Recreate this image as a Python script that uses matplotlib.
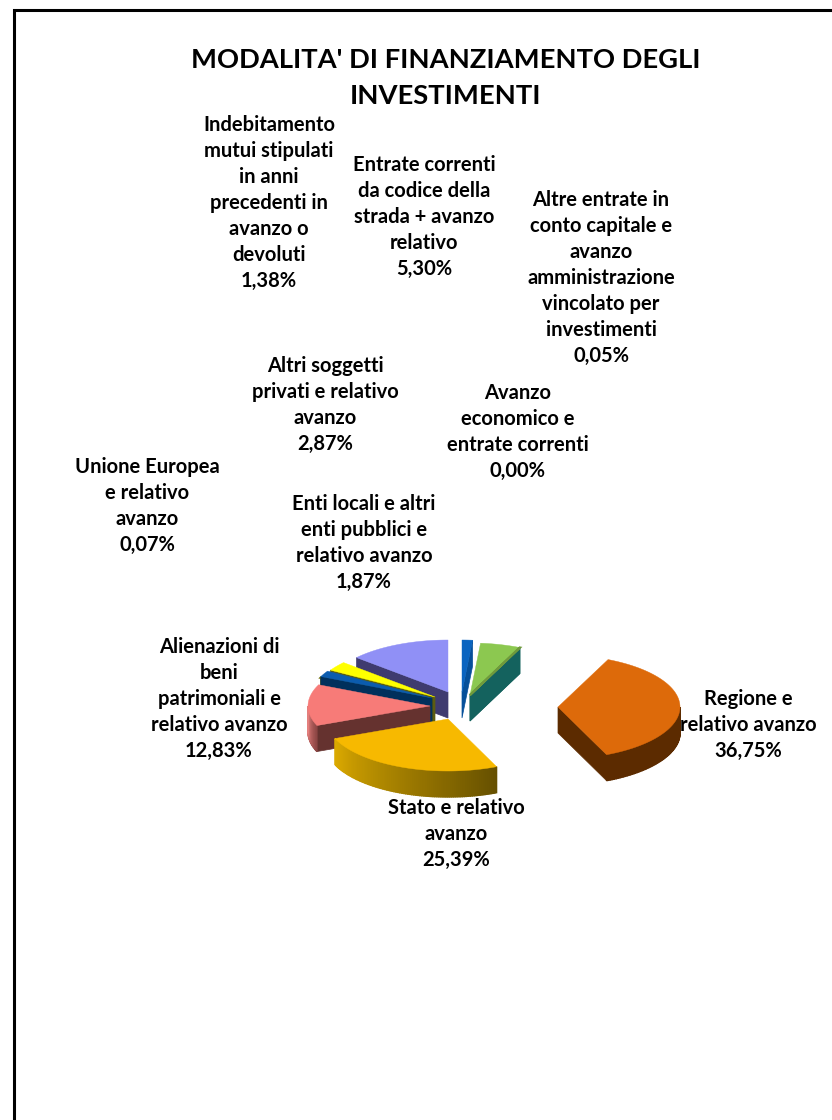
import numpy as np
import matplotlib
matplotlib.use('Agg')
import matplotlib.pyplot as plt
from matplotlib.colors import to_rgb
from matplotlib.patches import Polygon

title = "MODALITA' DI FINANZIAMENTO DEGLI\nINVESTIMENTI"
names = ["Indebitamento\nmutui stipulati\nin anni\nprecedenti in\navanzo o\ndevoluti",
         "Entrate correnti\nda codice della\nstrada + avanzo\nrelativo",
         "Altre entrate in\nconto capitale e\navanzo\namministrazione\nvincolato per\ninvestimenti",
         "Avanzo\neconomico e\nentrate correnti",
         "Regione e\nrelativo avanzo",
         "Stato e relativo\navanzo",
         "Alienazioni di\nbeni\npatrimoniali e\nrelativo avanzo",
         "Unione Europea\ne relativo\navanzo",
         "Enti locali e altri\nenti pubblici e\nrelativo avanzo",
         "Altri soggetti\nprivati e relativo\navanzo",
         ""]
# last slice (purple) has no label in the picture, its share is what is left
values = [1.38, 5.30, 0.05, 0.00, 36.75, 25.39, 12.83, 0.07, 1.87, 2.87, 13.49]

top_colors = ['#0a64c0', '#8cc850', '#6f9a3c', '#a0a0a0', '#dd6a0a', '#f7b900',
              '#f77b78', '#6a6a00', '#0b5cae', '#ffff00', '#9090f6']
face_colors = ['#06509a', '#14625e', '#14625e', '#808080', '#5c2b00', '#6b5300',
               '#65322f', '#4a4a00', '#00305c', '#5c5c10', '#3f3b6f']
wall_left = ['#06509a', '#14625e', '#14625e', '#808080', '#5c2b00', '#dcaa00',
             '#e88280', '#4a4a00', '#00305c', '#5c5c10', '#3f3b6f']
wall_right = ['#06509a', '#14625e', '#14625e', '#808080', '#5c2b00', '#665000',
              '#8a4442', '#4a4a00', '#00305c', '#5c5c10', '#3f3b6f']

# layout, pixels
apex_x = [462, 470, 470, 470, 558, 448, 430, 432, 432, 435, 448]
apex_y = [692, 695, 695, 695, 707, 719, 706, 699, 698, 697, 692]
label_x = [269, 424, 601, 518, 748, 456, 219, 147, 364, 325, 0]
label_y = [203, 217, 278, 432, 725, 834, 699, 506, 543, 405, 0]
draw_order = [0, 1, 2, 4, 10, 9, 7, 8, 6, 5]
rx, ry, depth = 122, 52, 26

plt.rcParams['font.family'] = ['Lato', 'DejaVu Sans']
fig = plt.figure(figsize=(8.32, 11.2), dpi=100)
ax = fig.add_axes([0, 0, 1, 1])
ax.set_xlim(0, 832)
ax.set_ylim(1120, 0)
ax.axis('off')

ax.plot([14, 14, 832], [1120, 10, 10], color='black', lw=2.2, solid_joinstyle='miter')

ends = np.cumsum(values) / sum(values) * 360
starts = np.concatenate([[0], ends[:-1]])


def rim(i, a):
    r = np.radians(a)
    return apex_x[i] + rx * np.sin(r), apex_y[i] - ry * np.cos(r)


def draw_slice(i):
    a0, a1 = starts[i], ends[i]
    x0, y0 = apex_x[i], apex_y[i]

    # radial side faces that look towards the viewer
    for a, visible in ((a0, np.sin(np.radians(a0)) < -0.01), (a1, np.sin(np.radians(a1)) > 0.01)):
        if visible:
            x1, y1 = rim(i, a)
            ax.add_patch(Polygon([(x0, y0), (x1, y1), (x1, y1 + depth), (x0, y0 + depth)],
                                 fc=face_colors[i], ec=face_colors[i], lw=0.5))

    # outer wall, front half only, in narrow strips for the shading
    w0, w1 = max(a0, 90), min(a1, 270)
    if w1 > w0:
        steps = np.linspace(w0, w1, int(w1 - w0) + 2)
        left, right = np.array(to_rgb(wall_left[i])), np.array(to_rgb(wall_right[i]))
        for s0, s1 in zip(steps[:-1], steps[1:]):
            (xa, ya), (xb, yb) = rim(i, s0), rim(i, s1)
            t = (s0 - w0) / (w1 - w0)
            c = right * (1 - t) + left * t
            ax.add_patch(Polygon([(xa, ya), (xb, yb), (xb, yb + depth), (xa, ya + depth)],
                                 fc=c, ec=c, lw=1.0))

    arc = [rim(i, a) for a in np.linspace(a0, a1, max(int(a1 - a0), 1) + 2)]
    lw = 1.6 if a1 - a0 < 1 else 0.3
    ax.add_patch(Polygon([(x0, y0)] + arc, fc=top_colors[i], ec=top_colors[i], lw=lw))


for i in draw_order:
    draw_slice(i)

ax.text(446, 78, title, ha='center', va='center', fontsize=19.7, fontweight='bold',
        color='black', linespacing=1.58)

for name, val, x, y in zip(names, values, label_x, label_y):
    if name:
        txt = name + "\n" + f"{val:.2f}".replace('.', ',') + "%"
        ax.text(x, y, txt, ha='center', va='center', fontsize=14.5, fontweight='bold',
                color='black', linespacing=1.38)

plt.savefig('out.png', dpi=100)
